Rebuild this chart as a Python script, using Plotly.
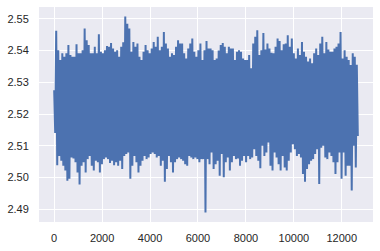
import numpy as np
import plotly.graph_objects as go

# Series length (sample index runs 0 .. N_LAST)
N_LAST = 12670

# Upper tips of the trace, read left to right (one per ~2 px column)
upper_tips = [
    2.5275, 2.5462, 2.5401, 2.5370, 2.5391, 2.5380, 2.5391, 2.5417, 2.5386, 2.5380,
    2.5380, 2.5420, 2.5391, 2.5391, 2.5401, 2.5469, 2.5432, 2.5417, 2.5391, 2.5391,
    2.5412, 2.5391, 2.5451, 2.5396, 2.5391, 2.5401, 2.5414, 2.5412, 2.5424, 2.5406,
    2.5396, 2.5401, 2.5380, 2.5412, 2.5426, 2.5507, 2.5484, 2.5469, 2.5396, 2.5427,
    2.5412, 2.5422, 2.5380, 2.5370, 2.5396, 2.5417, 2.5401, 2.5391, 2.5406, 2.5427,
    2.5412, 2.5443, 2.5401, 2.5412, 2.5458, 2.5422, 2.5406, 2.5380, 2.5391, 2.5386,
    2.5412, 2.5432, 2.5422, 2.5422, 2.5391, 2.5375, 2.5406, 2.5422, 2.5438, 2.5396,
    2.5380, 2.5401, 2.5422, 2.5370, 2.5401, 2.5430, 2.5406, 2.5406, 2.5401, 2.5370,
    2.5375, 2.5400, 2.5417, 2.5424, 2.5412, 2.5391, 2.5412, 2.5406, 2.5406, 2.5370,
    2.5396, 2.5401, 2.5396, 2.5375, 2.5370, 2.5370, 2.5386, 2.5344, 2.5422, 2.5443,
    2.5464, 2.5386, 2.5401, 2.5455, 2.5403, 2.5422, 2.5406, 2.5393, 2.5391, 2.5412,
    2.5438, 2.5430, 2.5401, 2.5420, 2.5422, 2.5448, 2.5412, 2.5438, 2.5391, 2.5375,
    2.5406, 2.5386, 2.5427, 2.5396, 2.5380, 2.5365, 2.5375, 2.5360, 2.5391, 2.5406,
    2.5386, 2.5422, 2.5443, 2.5391, 2.5427, 2.5403, 2.5396, 2.5396, 2.5406, 2.5412,
    2.5422, 2.5458, 2.5375, 2.5401, 2.5380, 2.5370, 2.5354, 2.5391, 2.5380, 2.5355,
]

# Lower tips of the trace, read left to right
lower_tips = [
    2.5140, 2.5039, 2.5068, 2.5053, 2.5037, 2.5022, 2.4990, 2.4996, 2.5063, 2.5060,
    2.5048, 2.5016, 2.4978, 2.5037, 2.5048, 2.5016, 2.5058, 2.5068, 2.5037, 2.5022,
    2.5053, 2.5048, 2.5016, 2.5042, 2.5058, 2.5063, 2.5058, 2.5046, 2.5053, 2.5039,
    2.5048, 2.5037, 2.5053, 2.5027, 2.5068, 2.5074, 2.5079, 2.4996, 2.5037, 2.5068,
    2.5048, 2.5016, 2.5037, 2.5053, 2.5068, 2.5058, 2.5063, 2.5074, 2.5079, 2.5074,
    2.5063, 2.5068, 2.5037, 2.5053, 2.4987, 2.5027, 2.5068, 2.5048, 2.5016, 2.5048,
    2.5058, 2.5063, 2.5058, 2.5053, 2.5042, 2.5037, 2.5068, 2.5063, 2.5058, 2.5063,
    2.5058, 2.5048, 2.5058, 2.5058, 2.4890, 2.5058, 2.5042, 2.5079, 2.5027, 2.5042,
    2.5053, 2.5006, 2.5074, 2.5001, 2.5048, 2.5063, 2.5022, 2.5048, 2.5068, 2.5058,
    2.5060, 2.5037, 2.5053, 2.5068, 2.5048, 2.5068, 2.5058, 2.5063, 2.5089, 2.5068,
    2.5053, 2.5029, 2.5100, 2.5068, 2.5079, 2.5110, 2.5037, 2.5022, 2.5079, 2.5063,
    2.5042, 2.5022, 2.5068, 2.5032, 2.5022, 2.5053, 2.5079, 2.5105, 2.5089, 2.5068,
    2.5074, 2.5063, 2.5011, 2.4987, 2.5027, 2.5042, 2.5053, 2.5058, 2.5074, 2.5089,
    2.4980, 2.5094, 2.5100, 2.5063, 2.5058, 2.5079, 2.5068, 2.5048, 2.5011, 2.5048,
    2.5079, 2.4996, 2.5079, 2.5006, 2.5037, 2.5037, 2.4959, 2.5100, 2.5032, 2.5131,
]

x_ticks = [0, 2000, 4000, 6000, 8000, 10000, 12000]
y_ticks = [2.49, 2.50, 2.51, 2.52, 2.53, 2.54, 2.55]

# Interleave the tips into the sample sequence
values = []
for hi, lo in zip(upper_tips, lower_tips):
    values.append(hi)
    values.append(lo)
values = np.array(values)
idx = np.linspace(0, N_LAST, len(values))

fig = go.Figure()
fig.add_trace(go.Scatter(
    x=idx, y=values, mode="lines",
    line=dict(color="#4C72B0", width=2, simplify=False),
    hoverinfo="skip", showlegend=False,
))

font = dict(family="Liberation Sans, Arial, sans-serif", size=11, color="#262626")
span_x = N_LAST
fig.update_layout(
    width=380, height=251,
    margin=dict(l=39, r=7, t=7, b=27),
    paper_bgcolor="white", plot_bgcolor="#EAEAF2",
    font=font, showlegend=False,
)
fig.update_xaxes(
    range=[-0.05 * span_x, 1.05 * span_x],
    tickvals=x_ticks, ticktext=[str(t) for t in x_ticks],
    showgrid=True, gridcolor="white", gridwidth=1,
    zeroline=False, showline=False,
    ticks="outside", ticklen=6, tickcolor="rgba(0,0,0,0)",
    tickfont=font,
)
fig.update_yaxes(
    range=[2.4860, 2.5537],
    tickvals=y_ticks, ticktext=[f"{t:.2f}" for t in y_ticks],
    showgrid=True, gridcolor="white", gridwidth=1,
    zeroline=False, showline=False,
    ticks="outside", ticklen=7, tickcolor="rgba(0,0,0,0)",
    tickfont=font,
)

fig.write_html("out.html")
